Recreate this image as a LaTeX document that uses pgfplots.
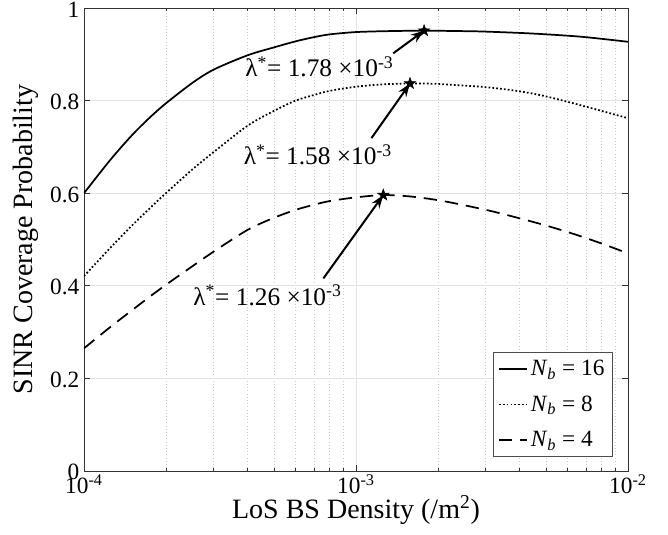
\documentclass[border=0pt]{standalone}
\usepackage{pgfplots}
\pgfplotsset{compat=1.18}
\usepackage{fontspec}
\setmainfont{Liberation Serif}
\usetikzlibrary{arrows.meta}

% filled five-point star for the optimum points
\pgfdeclareplotmark{pstar}{%
  \pgfpathmoveto{\pgfpointpolar{90}{\pgfplotmarksize}}%
  \pgfpathlineto{\pgfpointpolar{126}{0.4\pgfplotmarksize}}%
  \pgfpathlineto{\pgfpointpolar{162}{\pgfplotmarksize}}%
  \pgfpathlineto{\pgfpointpolar{198}{0.4\pgfplotmarksize}}%
  \pgfpathlineto{\pgfpointpolar{234}{\pgfplotmarksize}}%
  \pgfpathlineto{\pgfpointpolar{270}{0.4\pgfplotmarksize}}%
  \pgfpathlineto{\pgfpointpolar{306}{\pgfplotmarksize}}%
  \pgfpathlineto{\pgfpointpolar{342}{0.4\pgfplotmarksize}}%
  \pgfpathlineto{\pgfpointpolar{18}{\pgfplotmarksize}}%
  \pgfpathlineto{\pgfpointpolar{54}{0.4\pgfplotmarksize}}%
  \pgfpathclose\pgfusepathqfillstroke}

\newcommand{\lam}[1]{λ\textsuperscript{*}= #1 ×10\textsuperscript{-3}}
\newcommand{\Nb}{\textit{N}\textsubscript{\textit{b}}}

\begin{document}
\begin{tikzpicture}
\begin{axis}[
    scale only axis,
    width=408pt, height=347.25pt,
    xmode=log,
    xmin=1e-4, xmax=1e-2,
    ymin=0, ymax=1,
    xtick={1e-4,1e-3,1e-2},
    xticklabels={10\textsuperscript{-4},10\textsuperscript{-3},10\textsuperscript{-2}},
    ytick={0,0.2,0.4,0.6,0.8,1},
    yticklabels={0,0.2,0.4,0.6,0.8,1},
    tick align=inside,
    tick pos=both,
    major tick length=4.5pt,
    minor tick length=2.5pt,
    axis line style={draw=black!80, line width=0.6pt},
    every tick/.style={black!80, line width=0.5pt},
    xmajorgrids, ymajorgrids, xminorgrids,
    major grid style={gray!22, line width=0.6pt},
    minor grid style={gray!40, dotted, line width=0.4pt},
    ticklabel style={font=\fontsize{17.5}{19}\selectfont},
    xticklabel style={yshift=1pt},
    yticklabel style={yshift=-1pt},
    label style={font=\fontsize{21}{24}\selectfont},
    xlabel={LoS BS Density (/m\textsuperscript{2})},
    ylabel={SINR Coverage Probability},
    xlabel style={at={(axis description cs:0.5,-0.084)}, anchor=center},
    ylabel style={at={(axis description cs:-0.1076,0.5)}, anchor=center},
    legend style={at={(0.972,0.030)}, anchor=south east,
        draw=black!70, line width=0.5pt, fill=white,
        font=\fontsize{17.5}{19}\selectfont,
        row sep=9.5pt, inner sep=4pt,
        nodes={inner sep=2pt}},
    legend cell align=left,
    legend image post style={line width=1.1pt},
    legend image code/.code={\draw[#1] (0cm,0cm) -- (0.75cm,0cm);},
]

\addplot[black, line width=1.3pt, smooth] coordinates {
(1e-4,0.600) (1.25e-4,0.672) (1.5e-4,0.725) (1.75e-4,0.764) (2e-4,0.794)
(2.5e-4,0.838) (3e-4,0.867) (4e-4,0.898) (5e-4,0.915) (6e-4,0.928)
(7e-4,0.937) (8e-4,0.943) (1e-3,0.948) (1.3e-3,0.950) (1.78e-3,0.951)
(2.5e-3,0.950) (3e-3,0.949) (4.4e-3,0.945) (6.7e-3,0.938) (1e-2,0.927)};
\addlegendentry{\Nb\ = 16}

\addplot[black, line width=1.3pt, smooth, dash pattern=on 1.3pt off 1.6pt] coordinates {
(1e-4,0.421) (1.25e-4,0.482) (1.5e-4,0.530) (1.75e-4,0.568) (2e-4,0.600)
(2.5e-4,0.651) (3e-4,0.689) (4e-4,0.746) (5e-4,0.778) (6e-4,0.800)
(7e-4,0.812) (8e-4,0.821) (1e-3,0.830) (1.25e-3,0.835) (1.58e-3,0.837)
(2e-3,0.836) (3e-3,0.829) (4e-3,0.820) (5e-3,0.809) (6.7e-3,0.790)
(1e-2,0.762)};
\addlegendentry{\Nb\ = 8}

\addplot[black, line width=1.3pt, smooth, dash pattern=on 10pt off 6pt] coordinates {
(1e-4,0.265) (1.25e-4,0.311) (1.5e-4,0.347) (1.75e-4,0.377) (2e-4,0.402)
(2.5e-4,0.442) (3e-4,0.474) (4e-4,0.521) (5e-4,0.547) (6e-4,0.564)
(7e-4,0.575) (8e-4,0.583) (1e-3,0.591) (1.26e-3,0.596) (1.58e-3,0.593)
(2e-3,0.585) (2.5e-3,0.574) (3.16e-3,0.561) (3.98e-3,0.546) (5.01e-3,0.530)
(6.31e-3,0.512) (7.94e-3,0.492) (1e-2,0.470)};
\addlegendentry{\Nb\ = 4}

% optimum points
\addplot[black, only marks, mark=pstar, mark size=4.5pt, forget plot] coordinates {
(1.78e-3,0.951) (1.58e-3,0.837) (1.26e-3,0.596)};

\draw[black, line width=1.5pt, -{Stealth[length=10pt,width=7pt]}] (1.37e-3,0.902) -- (1.78e-3,0.951);
\draw[black, line width=1.5pt, -{Stealth[length=10pt,width=7pt]}] (1.14e-3,0.719) -- (1.58e-3,0.837);
\draw[black, line width=1.5pt, -{Stealth[length=10pt,width=7pt]}] (7.59e-4,0.416) -- (1.26e-3,0.596);

\node[anchor=base west, inner sep=0pt, font=\fontsize{19}{21}\selectfont] at (3.91e-4,0.852) {\lam{1.78}};
\node[anchor=base west, inner sep=0pt, font=\fontsize{19}{21}\selectfont] at (3.86e-4,0.661) {\lam{1.58}};
\node[anchor=base west, inner sep=0pt, font=\fontsize{19}{21}\selectfont] at (2.52e-4,0.3585) {\lam{1.26}};
\end{axis}
\pgfresetboundingbox
\path[use as bounding box] (-63pt,-48pt) rectangle (438pt,353.25pt);
\end{tikzpicture}
\end{document}
